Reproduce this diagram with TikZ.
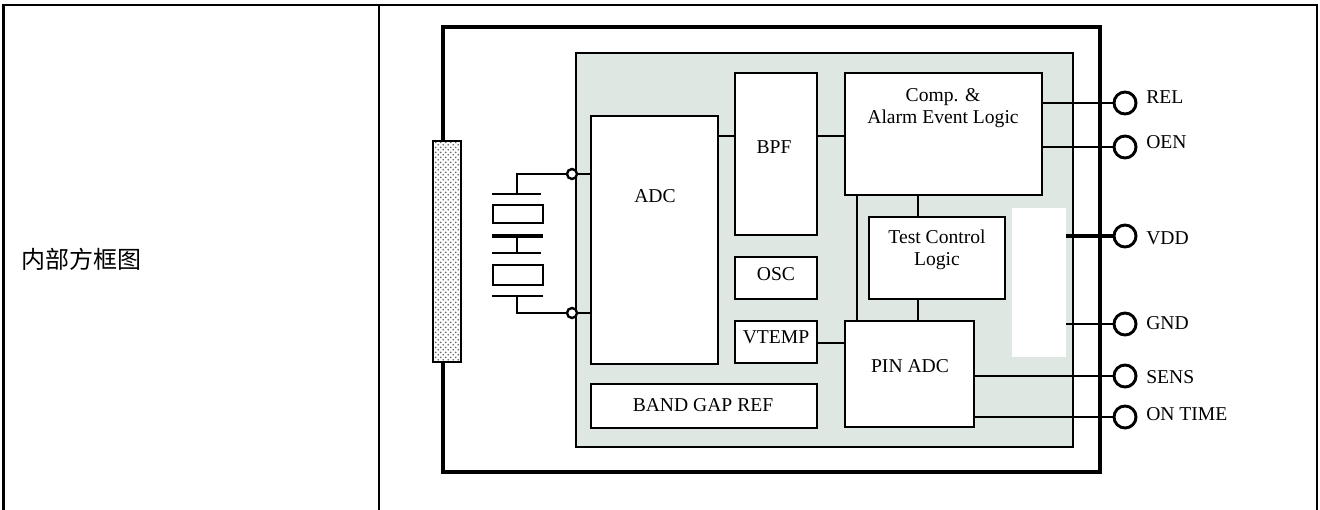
\documentclass[tikz,border=0pt]{standalone}
\usepackage{fontspec}
\setmainfont{Liberation Serif}
\newfontfamily\cjk{Noto Sans CJK SC}
\usetikzlibrary{patterns,fit}
\definecolor{shade}{RGB}{223,231,226}
\pgfdeclarepatternformonly{sensordots}{\pgfqpoint{0pt}{0pt}}{\pgfqpoint{4pt}{4pt}}{\pgfqpoint{4pt}{4pt}}{%
  \pgfpathcircle{\pgfqpoint{1pt}{1pt}}{0.75pt}%
  \pgfpathcircle{\pgfqpoint{3pt}{3pt}}{0.75pt}%
  \pgfusepath{fill}}
\begin{document}
\begin{tikzpicture}[x=0.75pt,y=-0.75pt,
  blk/.style={draw, line width=1.5pt, fill=white, inner sep=0pt},
  lbl/.style={font=\fontsize{14.7}{16.5}\selectfont, inner sep=0pt, align=center},
  pinlbl/.style={font=\fontsize{14.7}{16.5}\selectfont, inner sep=0pt, anchor=west},
  wire/.style={line width=1.5pt},
  pinwire/.style={line width=2pt},
  term/.style={circle, draw, fill=white, line width=1.8pt, minimum size=7.5pt, inner sep=0pt},
  pinc/.style={circle, draw, fill=white, line width=2.2pt, minimum size=16.5pt, inner sep=0pt},
]
\useasboundingbox (0,0) rectangle (1320,510);
% table
\draw[line width=1.6pt] (3.5,510) -- (3.5,5) -- (1317,5) -- (1317,510);
\draw[line width=1.6pt] (379,5) -- (379,510);
\node[font=\fontsize{18}{20}\selectfont\cjk, anchor=west, inner sep=0pt] (title) at (21,259) {内部方框图};

% package outline and die
\draw[line width=3.4pt] (443,27) rectangle (1100,472);
\draw[line width=2.2pt, fill=shade] (576,53) rectangle (1073,447);

% sensor element
\node[fit={(433,141) (461,362)}, inner sep=0pt, draw, line width=2.2pt,
      preaction={fill=white}, pattern=sensordots, pattern color=black!60] (sensor) {};

% terminals on die edge
\node[term] (t1) at (572,174) {};
\node[term] (t2) at (572,313) {};

% crystal symbol
\draw[wire] (t1.west) -- (517,174) -- (517,194);
\draw[wire] (492,194) -- (541,194);
\draw[wire] (493,205) rectangle (543,223);
\draw[line width=2.4pt] (492,236) -- (543,236);
\draw[wire] (517,236) -- (517,253);
\draw[wire] (492,253) -- (541,253);
\draw[wire] (493,265) rectangle (543,285);
\draw[line width=2.2pt] (492,296) -- (543,296);
\draw[wire] (517,296) -- (517,313) -- (t2.west);

% blocks
\node[blk, fit={(591,116) (718,364)}] (adc) {};
\node[blk, fit={(735,73) (817,235)}] (bpf) {};
\node[blk, fit={(845,73) (1042,195)}] (comp) {};
\node[blk, fit={(869,217) (1005,299)}] (tcl) {};
\node[blk, fit={(735,257) (817,299)}] (osc) {};
\node[blk, fit={(735,321) (817,363)}] (vtemp) {};
\node[blk, fit={(845,321) (974,427)}] (pinadc) {};
\node[blk, fit={(591,384) (817,428)}] (bgr) {};
\node[fit={(1012,208) (1066,357)}, inner sep=0pt, fill=white] (patch) {};

% block labels
\node[lbl] (adcl) at (655,196) {ADC};
\node[lbl] (bpfl) at (774,147) {BPF};
\node[lbl, anchor=north] (compl) at (943,88) {Comp. \&\\Alarm Event Logic};
\node[lbl, anchor=north] (tcll) at (937,230) {Test Control\\Logic};
\node[lbl] (oscl) at (776,274) {OSC};
\node[lbl] (vtempl) at (776,337) {VTEMP};
\node[lbl] (pinadcl) at (910,366) {PIN ADC};
\node[lbl] (bgrl) at (703,405) {BAND GAP REF};

% internal connections
\draw[wire] (t1.east) -- (adc.west |- t1);
\draw[wire] (t2.east) -- (adc.west |- t2);
\draw[wire] (adc.east |- 0,136) -- (bpf.west |- 0,136);
\draw[wire] (bpf.east |- 0,136) -- (comp.west |- 0,136);
\draw[wire] (comp.south -| 857,0) -- (pinadc.north -| 857,0);
\draw[wire] (comp.south -| 918,0) -- (tcl.north -| 918,0);
\draw[wire] (tcl.south -| 918,0) -- (pinadc.north -| 918,0);
\draw[wire] (vtemp.east |- 0,343) -- (pinadc.west |- 0,343);

% pins
\node[pinc] (prel) at (1125,103) {};
\node[pinc] (poen) at (1125,147) {};
\node[pinc] (pvdd) at (1125,236) {};
\node[pinc] (pgnd) at (1125,324) {};
\node[pinc] (psens) at (1125,376) {};
\node[pinc] (pon) at (1125,417) {};

\draw[pinwire] (comp.east |- prel) -- (prel.west);
\draw[pinwire] (comp.east |- poen) -- (poen.west);
\draw[line width=2.4pt] (patch.east |- pvdd) -- (pvdd.west);
\draw[pinwire] (patch.east |- pgnd) -- (pgnd.west);
\draw[pinwire] (pinadc.east |- psens) -- (psens.west);
\draw[pinwire] (pinadc.east |- pon) -- (pon.west);

\node[pinlbl] (lrel) at (1146,97) {REL};
\node[pinlbl] (loen) at (1146,142) {OEN};
\node[pinlbl] (lvdd) at (1146,238) {VDD};
\node[pinlbl] (lgnd) at (1146,323) {GND};
\node[pinlbl] (lsens) at (1146,377) {SENS};
\node[pinlbl] (lon) at (1146,414) {ON TIME};
\end{tikzpicture}
\end{document}
